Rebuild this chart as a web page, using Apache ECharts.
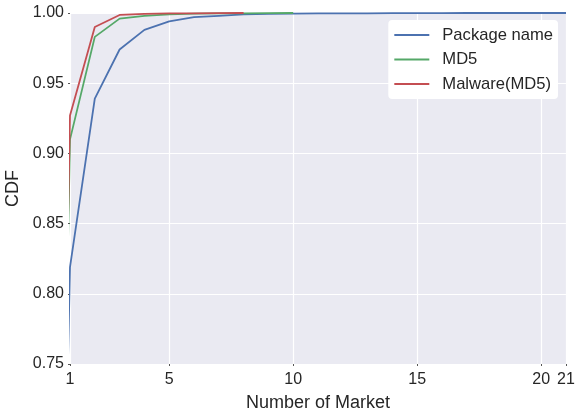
<!DOCTYPE html>
<html>
<head>
<meta charset="utf-8">
<script src="https://cdn.jsdelivr.net/npm/echarts@6/dist/echarts.min.js"></script>
<style>
html,body{margin:0;padding:0;background:#fff;}
#chart{width:575px;height:416px;}
</style>
</head>
<body>
<div id="chart"></div>
<script>
// Number of markets (x) — 0 is the CDF start point, lies left of the visible axis
const pkgX = [0,1,2,3,4,5,6,7,8,9,10,11,12,13,14,15,16,17,18,19,20,21];
const pkgCDF = [0,0.819,0.939,0.974,0.988,0.994,0.997,0.998,0.999,0.9994,0.9996,0.9997,0.9998,0.9998,0.9999,0.9999,0.9999,1.0,1.0,1.0,1.0,1.0];
const md5X = [0,1,2,3,4,5,6,7,8,9,10];
const md5CDF = [0,0.910,0.983,0.996,0.998,0.999,0.9995,0.9997,0.9998,0.9999,1.0];
const malX = [0,1,2,3,4,5,6,7,8];
const malCDF = [0,0.927,0.990,0.9986,0.9994,0.9997,0.9998,0.9999,1.0];
const seriesNames = ['Package name','MD5','Malware(MD5)'];
const xTicks = [1,5,10,15,20,21];
const yTicks = [0.75,0.80,0.85,0.90,0.95,1.00];

const colors = ['#4C72B0','#55A868','#C44E52'];
const pairs = (xs, ys) => xs.map((x,i)=>[x, ys[i]]);
const textColor = '#262626';
const font = 'Liberation Sans, Arial, sans-serif';

const chart = echarts.init(document.getElementById('chart'));
chart.setOption({
  animation:false,
  color: colors,
  textStyle:{fontFamily:font},
  grid:{left:70, right:9, top:13, bottom:52, show:true, backgroundColor:'#EAEAF2', borderWidth:0, outerBoundsMode:'none', containLabel:false},
  legend:{
    orient:'vertical', right:17, top:20,
    backgroundColor:'#ffffff', borderRadius:4, padding:[6,5,6,6],
    itemWidth:35, itemHeight:2, itemGap:6.5, icon:'rect',
    itemStyle:{borderWidth:0},
    textStyle:{fontSize:16.6, color:textColor, fontFamily:font, lineHeight:18, padding:[0,0,0,8]},
    data: seriesNames
  },
  xAxis:{
    type:'value', min:1, max:21,
    name:'Number of Market', nameLocation:'middle', nameGap:30,
    nameTextStyle:{fontSize:18, color:textColor, fontFamily:font},
    axisLine:{show:false},
    axisTick:{show:true, length:2, customValues:xTicks, lineStyle:{color:'#555'}},
    axisLabel:{customValues:xTicks, fontSize:16, color:textColor, margin:8, fontFamily:font},
    splitLine:{show:true, lineStyle:{color:'#ffffff', width:1.2}}
  },
  yAxis:{
    type:'value', min:0.75, max:1.0, interval:0.05,
    name:'CDF', nameLocation:'middle', nameGap:41,
    nameTextStyle:{fontSize:18, color:textColor, fontFamily:font},
    axisLine:{show:false},
    axisTick:{show:true, length:2, lineStyle:{color:'#555'}},
    axisLabel:{fontSize:16, color:textColor, margin:6, fontFamily:font, formatter:v=>v.toFixed(2)},
    splitLine:{show:true, lineStyle:{color:'#ffffff', width:1.2}}
  },
  series:[
    {name:seriesNames[0], type:'line', data:pairs(pkgX,pkgCDF), showSymbol:false, clip:true, lineStyle:{width:1.8}},
    {name:seriesNames[1], type:'line', data:pairs(md5X,md5CDF), showSymbol:false, clip:true, lineStyle:{width:1.8}},
    {name:seriesNames[2], type:'line', data:pairs(malX,malCDF), showSymbol:false, clip:true, lineStyle:{width:1.8}}
  ]
});
</script>
</body>
</html>
